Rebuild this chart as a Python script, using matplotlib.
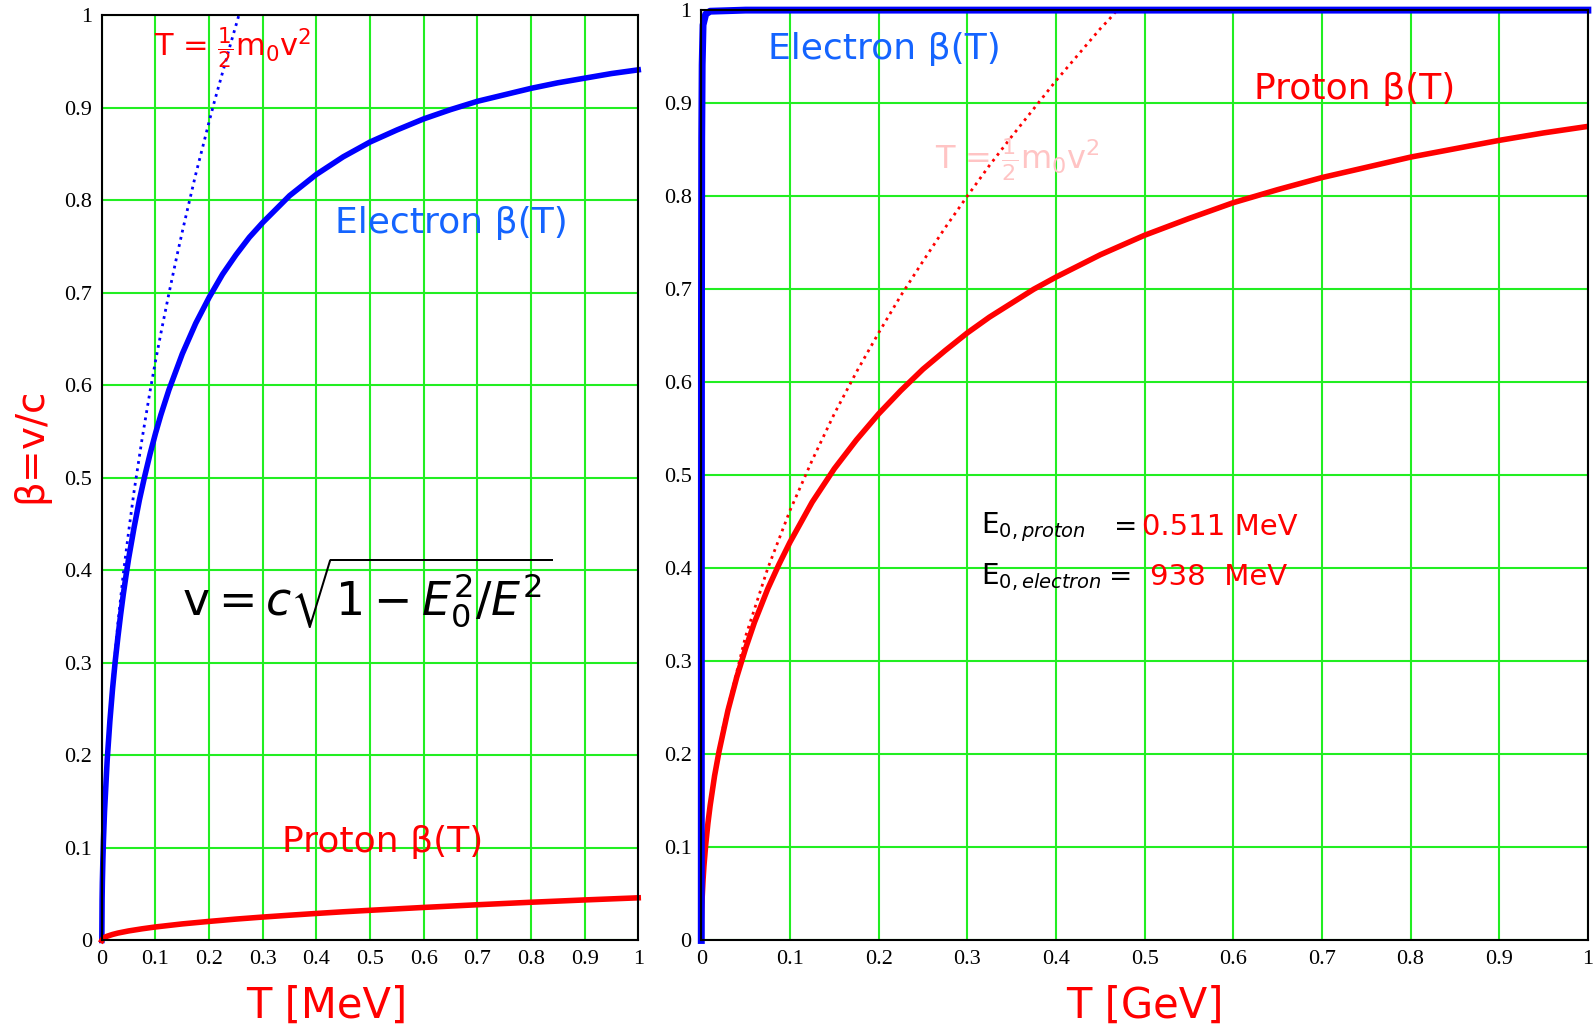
import numpy as np
import matplotlib.pyplot as plt

# beta vs kinetic energy

# left panel, T in MeV
t_e_mev = [0, 0.0005, 0.001, 0.002, 0.003, 0.005, 0.01, 0.015, 0.02, 0.025, 0.03, 0.035,
           0.04, 0.045, 0.05, 0.06, 0.07, 0.08, 0.09, 0.1, 0.11, 0.125, 0.15, 0.175, 0.2,
           0.225, 0.25, 0.275, 0.3, 0.35, 0.4, 0.45, 0.5, 0.55, 0.6, 0.65, 0.7, 0.75,
           0.8, 0.85, 0.9, 0.95, 1.0]
beta_e_mev = [0, 0.044, 0.063, 0.088, 0.108, 0.139, 0.195, 0.237, 0.272, 0.302, 0.328,
              0.352, 0.374, 0.394, 0.413, 0.446, 0.476, 0.502, 0.526, 0.548, 0.568,
              0.595, 0.634, 0.667, 0.695, 0.720, 0.741, 0.760, 0.776, 0.805, 0.828,
              0.847, 0.863, 0.876, 0.888, 0.898, 0.907, 0.914, 0.921, 0.927, 0.932,
              0.937, 0.941]
t_p_mev = [0, 0.002, 0.005, 0.01, 0.02, 0.03, 0.05, 0.075, 0.1, 0.15, 0.2, 0.25, 0.3,
           0.35, 0.4, 0.45, 0.5, 0.6, 0.7, 0.8, 0.9, 1.0]
beta_p_mev = [0, 0.0021, 0.0033, 0.0046, 0.0065, 0.008, 0.0103, 0.0126, 0.0146, 0.0179,
              0.0206, 0.0231, 0.0253, 0.0273, 0.0292, 0.0310, 0.0326, 0.0357, 0.0386,
              0.0413, 0.0438, 0.0461]
t_cl_mev = [0, 0.001, 0.0025, 0.005, 0.0075, 0.01, 0.015, 0.02, 0.03, 0.04, 0.05, 0.06,
            0.075, 0.09, 0.1, 0.11, 0.125, 0.14, 0.15, 0.16, 0.175, 0.19, 0.2, 0.21,
            0.225, 0.24, 0.25, 0.2555]
beta_cl_mev = [0, 0.063, 0.099, 0.140, 0.171, 0.198, 0.242, 0.280, 0.343, 0.396, 0.442,
               0.485, 0.542, 0.594, 0.626, 0.656, 0.699, 0.740, 0.766, 0.791, 0.828,
               0.862, 0.885, 0.907, 0.938, 0.969, 0.989, 1.0]

# right panel, T in GeV
t_e_gev = [0, 0.0002, 0.0005, 0.001, 0.002, 0.005, 0.01, 0.05, 1.0]
beta_e_gev = [0, 0.66, 0.863, 0.941, 0.984, 0.9957, 0.9988, 1.0, 1.0]
t_p_gev = [0, 0.0002, 0.0005, 0.001, 0.002, 0.003, 0.005, 0.0075, 0.01, 0.015, 0.02,
           0.03, 0.04, 0.05, 0.06, 0.075, 0.0875, 0.1, 0.125, 0.15, 0.175, 0.2, 0.225,
           0.25, 0.275, 0.3, 0.325, 0.35, 0.375, 0.4, 0.45, 0.5, 0.55, 0.6, 0.65, 0.7,
           0.75, 0.8, 0.85, 0.9, 0.95, 1.0]
beta_p_gev = [0, 0.021, 0.033, 0.046, 0.065, 0.080, 0.103, 0.126, 0.145, 0.177, 0.203,
              0.247, 0.283, 0.314, 0.342, 0.378, 0.404, 0.428, 0.471, 0.507, 0.538,
              0.566, 0.591, 0.614, 0.634, 0.653, 0.670, 0.685, 0.700, 0.713, 0.737,
              0.758, 0.776, 0.793, 0.807, 0.820, 0.831, 0.842, 0.851, 0.860, 0.868,
              0.875]
t_cl_gev = [0, 0.001, 0.0025, 0.005, 0.01, 0.025, 0.05, 0.075, 0.1, 0.125, 0.15, 0.175,
            0.2, 0.225, 0.25, 0.275, 0.3, 0.325, 0.35, 0.375, 0.4, 0.425, 0.45, 0.46,
            0.469]
beta_cl_gev = [0, 0.046, 0.073, 0.103, 0.146, 0.231, 0.327, 0.400, 0.462, 0.516, 0.566,
               0.611, 0.653, 0.693, 0.730, 0.766, 0.800, 0.833, 0.864, 0.894, 0.924,
               0.952, 0.980, 0.990, 1.0]

ticks = np.round(np.arange(0, 1.01, 0.1), 1)
tick_labels = ['0'] + ['%.1f' % t for t in ticks[1:-1]] + ['1']

RED = '#ff0000'
BLUE = '#0000ff'
TXT_BLUE = '#1464ff'
GREEN = '#22ee22'
LABEL_FONT = 'DejaVu Sans'

fig = plt.figure(figsize=(15.96, 10.32), dpi=100)
ax1 = fig.add_axes([0.0638, 0.0887, 0.3361, 0.8965])
ax2 = fig.add_axes([0.4394, 0.0887, 0.5555, 0.9015])

for ax in (ax1, ax2):
    ax.set_xlim(0, 1)
    ax.set_ylim(0, 1)
    ax.set_xticks(ticks)
    ax.set_yticks(ticks)
    ax.set_xticklabels(tick_labels, family='Liberation Serif', fontsize=16)
    ax.set_yticklabels(tick_labels, family='Liberation Serif', fontsize=16)
    ax.tick_params(length=0, pad=7)
    ax.grid(True, color=GREEN, linewidth=1.5)
    ax.set_axisbelow(True)
    for s in ax.spines.values():
        s.set_color('black')
        s.set_linewidth(1.5)

# left panel
ax1.plot(t_cl_mev, beta_cl_mev, color=BLUE, linestyle=':', linewidth=2)
ax1.plot(t_e_mev, beta_e_mev, color=BLUE, linewidth=4, clip_on=False)
ax1.plot(t_p_mev, beta_p_mev, color=RED, linewidth=4, clip_on=False)
ax1.set_xlabel('T [MeV]', color=RED, fontsize=30, family=LABEL_FONT)
ax1.xaxis.set_label_coords(0.42, -0.048)
ax1.set_ylabel(r'$\mathregular{\beta}$=v/c', color=RED, fontsize=28, family=LABEL_FONT)
ax1.yaxis.set_label_coords(-0.088, 0.53)
ax1.text(0.098, 0.964, r'T = $\frac{1}{2}$m$_0$v$^2$', color=RED, fontsize=22,
         family=LABEL_FONT, va='center')
ax1.text(0.435, 0.775, 'Electron β(T)', color=TXT_BLUE, fontsize=26, family=LABEL_FONT,
         va='center')
ax1.text(0.336, 0.106, 'Proton β(T)', color=RED, fontsize=26, family=LABEL_FONT,
         va='center')
ax1.text(0.15, 0.375, r'$\mathsf{v} = c\sqrt{1-E_0^2/E^2}$', color='black', fontsize=33,
         va='center')

# right panel
ax2.plot(t_cl_gev, beta_cl_gev, color=RED, linestyle=':', linewidth=2)
ax2.plot(t_p_gev, beta_p_gev, color=RED, linewidth=4)
ax2.plot(t_e_gev, beta_e_gev, color=BLUE, linewidth=5, clip_on=False)
ax2.set_xlabel('T [GeV]', color=RED, fontsize=30, family=LABEL_FONT)
ax2.xaxis.set_label_coords(0.5, -0.048)
ax2.text(0.075, 0.958, 'Electron β(T)', color=TXT_BLUE, fontsize=26, family=LABEL_FONT,
         va='center')
ax2.text(0.623, 0.915, 'Proton β(T)', color=RED, fontsize=26, family=LABEL_FONT,
         va='center')
ax2.text(0.264, 0.839, r'T = $\frac{1}{2}$m$_0$v$^2$', color='#ffc4c4', fontsize=23,
         family=LABEL_FONT, va='center')
ax2.text(0.316, 0.444, r'E$_{0,proton}$', color='black', fontsize=20, family=LABEL_FONT,
         va='center')
ax2.text(0.465, 0.444, '=', color='black', fontsize=20, family=LABEL_FONT, va='center')
ax2.text(0.497, 0.444, '0.511 MeV', color=RED, fontsize=21, family=LABEL_FONT,
         va='center')
ax2.text(0.316, 0.391, r'E$_{0,electron}$', color='black', fontsize=20,
         family=LABEL_FONT, va='center')
ax2.text(0.46, 0.391, '=', color='black', fontsize=20, family=LABEL_FONT, va='center')
ax2.text(0.506, 0.391, '938  MeV', color=RED, fontsize=21, family=LABEL_FONT,
         va='center')

fig.savefig('out.png', dpi=100)
